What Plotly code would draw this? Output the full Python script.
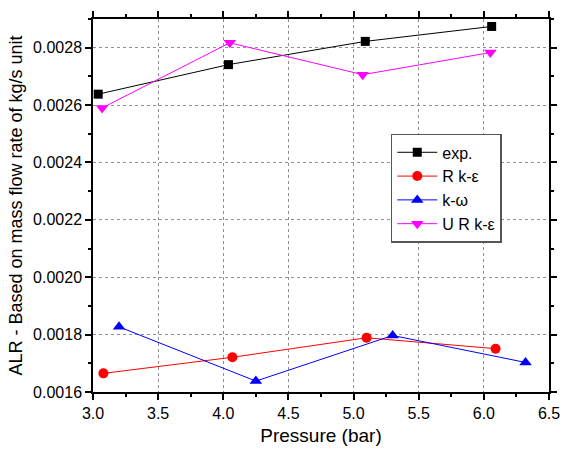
import plotly.graph_objects as go

exp_x = [3.04, 4.04, 5.09, 6.06]
exp_y = [0.002638, 0.002741, 0.002822, 0.002874]
rke_x = [3.08, 4.07, 5.10, 6.09]
rke_y = [0.001665, 0.001721, 0.001789, 0.001751]
kw_x = [3.20, 4.25, 5.30, 6.32]
kw_y = [0.001827, 0.001638, 0.001797, 0.001703]
urke_x = [3.07, 4.05, 5.07, 6.05]
urke_y = [0.002590, 0.002817, 0.002706, 0.002783]

fig = go.Figure()
fig.add_trace(go.Scatter(x=exp_x, y=exp_y, name="exp.", mode="lines+markers",
                         line=dict(color="black", width=1),
                         marker=dict(symbol="square", size=9, color="black")))
fig.add_trace(go.Scatter(x=rke_x, y=rke_y, name="R k-ε", mode="lines+markers",
                         line=dict(color="red", width=1),
                         marker=dict(symbol="circle", size=10, color="red")))
fig.add_trace(go.Scatter(x=kw_x, y=kw_y, name="k-ω", mode="lines+markers",
                         line=dict(color="blue", width=1),
                         marker=dict(symbol="triangle-up", size=11, color="blue")))
fig.add_trace(go.Scatter(x=urke_x, y=urke_y, name="U R k-ε", mode="lines+markers",
                         line=dict(color="magenta", width=1),
                         marker=dict(symbol="triangle-down", size=11, color="magenta")))

axis_common = dict(showline=True, linecolor="black", linewidth=1.5, mirror="ticks",
                   ticks="outside", ticklen=6, tickwidth=1.5, tickcolor="black",
                   showgrid=True, gridcolor="#909090", griddash="3px,3px", gridwidth=1,
                   zeroline=False, tickfont=dict(size=16, color="black"), automargin=False)

fig.update_xaxes(range=[3.0, 6.5], dtick=0.5, tickformat=".1f",
                 minor=dict(dtick=0.25, ticks="outside", ticklen=3, tickcolor="black", showgrid=False),
                 title=dict(text="Pressure (bar)", font=dict(size=19, color="black"), standoff=8),
                 **axis_common)
fig.update_yaxes(range=[0.0016, 0.0029], dtick=0.0002, tick0=0.0016, tickformat=".4f",
                 minor=dict(dtick=0.0001, ticks="outside", ticklen=3, tickcolor="black", showgrid=False),
                 title=dict(text="ALR - Based on mass flow rate of kg/s unit", font=dict(size=18, color="black"), standoff=6),
                 **axis_common)

fig.update_layout(
    width=562, height=450,
    margin=dict(l=93, r=13, t=19, b=58),
    paper_bgcolor="white", plot_bgcolor="white",
    font=dict(family="Liberation Sans, Arial, sans-serif", color="black"),
    legend=dict(x=0.653, y=0.692, xanchor="left", yanchor="top",
                bgcolor="white", bordercolor="#555555", borderwidth=1.5,
                font=dict(size=16, color="black"), tracegroupgap=0, itemwidth=40),
    showlegend=True,
)

fig.write_html("out.html", config={"displayModeBar": False},
               post_script="document.body.style.margin='0';document.body.style.overflow='hidden';")
